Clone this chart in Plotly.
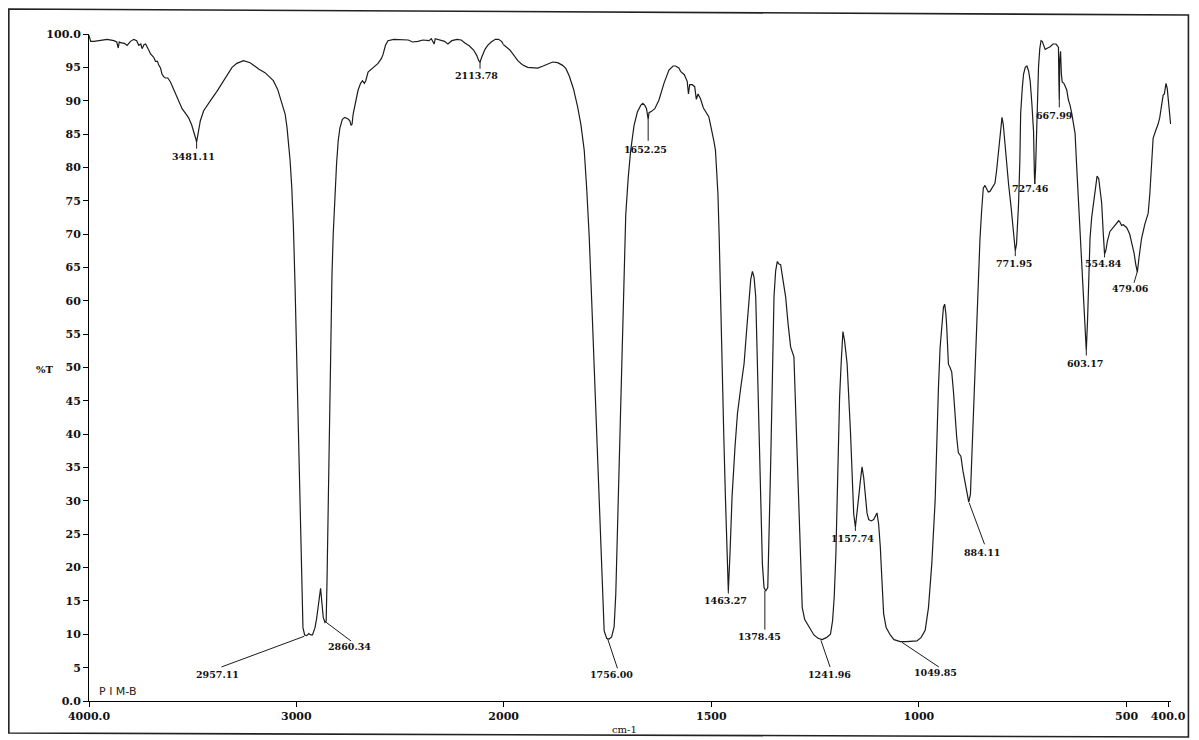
import plotly.graph_objects as go

# ---------------- data ----------------
wavenumber = [
    4000, 3992, 3976, 3950, 3912, 3880, 3866, 3859, 3854, 3848, 3830, 3816, 3800, 3784, 3770,
    3760, 3750, 3744, 3735, 3727, 3718, 3712, 3703, 3696, 3688, 3679, 3670, 3663, 3655, 3648,
    3640, 3631, 3620, 3607, 3590, 3575, 3551, 3530, 3519, 3505, 3495, 3485, 3481, 3476, 3463,
    3447, 3431, 3410, 3383, 3360, 3335, 3310, 3287, 3255, 3223, 3200, 3180, 3151, 3135, 3111,
    3090, 3071, 3054, 3045, 3038, 3030, 3022, 3014, 3006, 2998, 2990, 2982, 2974, 2968, 2960,
    2950, 2940, 2930, 2922, 2910, 2902, 2890, 2883, 2876, 2870, 2862, 2856, 2852, 2848, 2843,
    2838, 2833, 2828, 2822, 2814, 2806, 2798, 2790, 2778, 2766, 2752, 2742, 2736, 2731, 2726,
    2715, 2702, 2690, 2681, 2672, 2665, 2654, 2630, 2606, 2590, 2582, 2570, 2558, 2530, 2494,
    2460, 2440, 2413, 2390, 2360, 2349, 2335, 2330, 2317, 2300, 2285, 2269, 2250, 2225, 2205,
    2185, 2165, 2145, 2130, 2120, 2114, 2105, 2090, 2077, 2060, 2040, 2025, 2010, 2000, 1985,
    1966, 1955, 1942, 1930, 1918, 1905, 1890, 1882, 1870, 1858, 1850, 1842, 1832, 1822, 1814,
    1806, 1800, 1794, 1788, 1782, 1776, 1770, 1766, 1762, 1758, 1752, 1746, 1740, 1734, 1730,
    1728, 1722, 1718, 1714, 1710, 1706, 1700, 1694, 1686, 1678, 1670, 1665, 1660, 1656, 1652,
    1650, 1644, 1636, 1626, 1614, 1602, 1592, 1586, 1578, 1574, 1565, 1558, 1555, 1552, 1546,
    1540, 1536, 1532, 1526, 1519, 1514, 1506, 1502, 1498, 1494, 1490, 1484, 1481, 1478, 1474,
    1470, 1466, 1462, 1459, 1455, 1450, 1443, 1437, 1429, 1421, 1415, 1409, 1405, 1401, 1397,
    1393, 1389, 1385, 1381, 1377, 1373, 1369, 1364, 1360, 1357, 1353, 1349, 1345, 1341, 1337,
    1333, 1327, 1321, 1315, 1309, 1301, 1297, 1293, 1287, 1281, 1275, 1269, 1261, 1253, 1243,
    1233, 1223, 1213, 1208, 1204, 1200, 1197, 1191, 1187, 1183, 1179, 1173, 1165, 1160, 1157,
    1153, 1149, 1145, 1141, 1137, 1133, 1129, 1125, 1121, 1115, 1109, 1104, 1101, 1097, 1093,
    1089, 1085, 1079, 1069, 1060, 1045, 1030, 1018, 1005, 995, 985, 977, 969, 961, 957,
    953, 949, 945, 941, 938, 935, 933, 929, 925, 921, 917, 913, 909, 905, 899,
    894, 889, 884, 880, 876, 873, 869, 865, 861, 857, 853, 849, 845, 841, 837,
    833, 829, 823, 817, 813, 808, 804, 800, 797, 792, 788, 784, 778, 772, 768,
    765, 760, 757, 755, 751, 748, 744, 740, 736, 732, 728, 724, 722, 721, 719,
    717, 714, 712, 709, 706, 703, 699, 696, 690, 684, 677, 670, 666, 664, 663,
    662, 661, 659, 657, 655, 651, 647, 644, 640, 636, 632, 628, 624, 620, 616,
    612, 608, 604, 600, 597, 594, 591, 588, 584, 580, 575, 571, 567, 564, 560,
    556, 553, 550, 546, 540, 532, 524, 519, 516, 512, 508, 504, 500, 496, 492,
    487, 482, 478, 474, 470, 464, 456, 448, 444, 440, 436, 430, 424, 420, 416,
    412, 409, 407, 405, 402, 400, 397, 394,
]
transmittance = [
    99.8, 98.9, 98.9, 99.0, 99.2, 99.0, 98.8, 97.9, 98.8, 98.7, 98.6, 98.3, 98.9, 99.2, 99.0,
    98.3, 98.5, 97.8, 98.4, 98.5, 97.8, 97.6, 97.0, 96.8, 96.5, 95.9, 95.9, 95.3, 94.9, 94.0,
    93.6, 93.4, 93.4, 92.8, 91.6, 90.6, 88.8, 87.9, 87.4, 86.4, 85.5, 84.3, 83.8, 84.8, 87.0,
    88.5, 89.3, 90.2, 91.4, 92.5, 93.9, 95.0, 95.6, 96.0, 95.7, 95.1, 94.7, 94.2, 93.7, 93.0,
    91.7, 89.8, 88.0, 86.0, 84.0, 81.0, 77.0, 71.0, 62.0, 51.0, 40.0, 30.0, 18.0, 11.0, 9.9,
    9.8, 10.1, 9.9, 9.9, 11.0, 12.4, 15.0, 16.9, 14.5, 12.5, 11.8, 12.0, 18.0, 26.0, 37.0,
    48.0, 57.0, 64.0, 70.0, 76.0, 80.5, 84.0, 85.9, 87.2, 87.5, 87.3, 87.0, 86.3, 86.5, 88.0,
    89.5, 91.6, 92.6, 93.0, 92.6, 93.0, 94.3, 95.0, 95.6, 96.3, 96.9, 98.3, 99.0, 99.2, 99.2,
    99.1, 98.8, 98.9, 99.1, 99.0, 99.3, 98.5, 99.3, 99.2, 99.0, 98.9, 98.5, 99.0, 99.2, 99.1,
    98.6, 98.2, 97.6, 96.8, 96.0, 95.8, 96.6, 97.7, 98.3, 98.8, 99.2, 99.2, 98.9, 98.4, 97.6,
    96.0, 95.4, 95.0, 95.0, 94.9, 95.2, 95.6, 95.8, 95.7, 95.3, 94.8, 93.7, 91.8, 89.1, 86.4,
    82.6, 76.8, 69.6, 60.0, 50.1, 40.3, 30.6, 22.0, 14.5, 10.5, 9.4, 9.3, 9.6, 11.1, 16.0,
    20.8, 37.1, 47.0, 56.6, 65.0, 72.9, 78.5, 82.6, 86.3, 88.3, 89.3, 89.6, 89.3, 88.8, 87.2,
    88.2, 88.4, 88.8, 90.1, 92.6, 94.6, 95.2, 95.2, 94.9, 94.4, 93.9, 92.9, 91.0, 92.4, 92.4,
    92.1, 90.2, 91.0, 90.3, 88.9, 88.4, 87.6, 86.4, 85.4, 84.0, 82.6, 76.0, 69.6, 60.0, 50.1,
    40.0, 30.6, 21.0, 16.5, 22.0, 30.6, 38.0, 43.1, 47.0, 50.6, 55.5, 60.6, 63.2, 64.4, 63.5,
    60.6, 51.0, 40.6, 30.0, 20.6, 17.0, 16.5, 17.0, 26.0, 35.6, 48.0, 60.6, 64.5, 65.9, 65.5,
    65.4, 63.0, 60.6, 56.5, 53.1, 51.6, 44.0, 35.6, 24.0, 14.0, 12.2, 11.6, 10.6, 9.9, 9.4,
    9.2, 9.5, 10.0, 12.0, 15.6, 22.0, 30.6, 45.6, 51.0, 55.4, 54.0, 50.6, 40.6, 32.0, 28.0,
    26.1, 28.0, 30.6, 33.0, 35.1, 33.5, 30.6, 28.2, 27.2, 27.0, 27.2, 27.9, 28.2, 26.5, 23.1,
    18.0, 13.1, 11.0, 9.9, 9.2, 8.9, 8.9, 8.9, 9.0, 9.5, 10.6, 14.0, 20.6, 30.0, 40.0,
    47.0, 53.0, 56.5, 59.0, 59.5, 58.0, 56.0, 50.5, 50.0, 49.3, 46.5, 42.6, 39.5, 37.2, 36.7,
    34.5, 32.9, 31.0, 29.8, 31.0, 36.0, 42.6, 50.0, 58.6, 64.0, 69.3, 73.5, 76.9, 77.3, 76.8,
    76.3, 76.4, 77.0, 77.6, 79.5, 82.7, 86.0, 87.5, 86.5, 82.7, 80.0, 77.4, 74.0, 70.4, 67.5,
    68.5, 74.7, 81.0, 88.1, 92.0, 94.0, 95.0, 95.2, 94.5, 92.9, 89.5, 85.4, 79.0, 77.5, 80.0,
    85.2, 91.0, 95.1, 97.8, 99.0, 98.9, 98.0, 97.7, 97.9, 98.1, 98.5, 98.5, 98.2, 98.0, 93.0,
    90.1, 96.0, 97.4, 94.0, 92.8, 92.6, 92.0, 91.6, 90.1, 89.3, 88.1, 86.8, 85.1, 80.0, 75.1,
    70.0, 65.1, 59.5, 54.5, 52.5, 57.0, 64.0, 69.3, 72.5, 74.7, 77.0, 78.7, 78.3, 77.0, 74.7,
    70.0, 67.0, 67.5, 69.0, 70.4, 71.0, 71.5, 72.0, 71.8, 71.3, 71.4, 71.2, 71.0, 70.5, 69.9,
    68.5, 67.2, 65.5, 64.3, 66.5, 69.3, 71.5, 73.1, 76.0, 81.0, 84.4, 85.5, 86.5, 87.5, 89.0,
    90.8, 91.0, 92.0, 92.6, 91.8, 90.5, 89.0, 86.5,
]

# x-axis tick labels (two-scale IR abscissa)
ticks_high = [4000, 3000, 2000]
ticks_high_text = ["4000.0", "3000", "2000"]
ticks_low = [1500, 1000, 500, 400]
ticks_low_text = ["1500", "1000", "500", "400.0"]
ytick_vals = list(range(0, 101, 5))
ytick_text = ["0.0"] + [str(v) for v in range(5, 100, 5)] + ["100.0"]

# peak annotations: label text, label position (cm-1, %T), leader line
peak_labels = ["3481.11", "2113.78", "2957.11", "2860.34", "1756.00", "1652.25",
               "1463.27", "1378.45", "1241.96", "1157.74", "1049.85", "884.11",
               "771.95", "727.46", "667.99", "603.17", "554.84", "479.06"]
label_pos = [(3495, 81.6), (2130, 93.8), (3380, 4.0), (2745, 8.2), (1740, 3.9), (1659, 82.7),
             (1466, 15.1), (1385, 9.6), (1216, 3.9), (1159, 24.4), (959, 4.2), (849, 22.3),
             (772, 65.6), (731, 76.8), (673, 87.8), (600, 50.6), (555, 65.6), (491, 61.8)]
leaders = [((3481, 83.8), (3481, 82.8)), ((2114, 95.8), (2114, 94.8)),
           ((3361, 5.1), (2962, 9.7)), ((2865, 12.0), (2736, 9.0)),
           ((1750, 9.4), (1726, 4.9)), ((1652, 87.2), (1652, 84.0)),
           ((1459, 16.5), (1459, 16.1)), ((1371, 16.5), (1371, 10.7)),
           ((1236, 9.1), (1214, 5.1)), ((1153, 26.1), (1153, 25.5)),
           ((1041, 8.8), (952, 5.1)), ((879, 29.7), (842, 23.5)),
           ((768, 67.5), (768, 66.7)), ((721, 77.5), (721, 77.8)),
           ((662, 90.1), (662, 89.0)), ((597, 52.5), (597, 51.8)),
           ((553, 67.0), (553, 66.5)), ((474, 64.4), (482, 62.7))]

# ---------------- figure ----------------
LINE = "#1c1c1c"
SERIF = "DejaVu Serif"
W, H = 1191, 732            # page body adds an 8 px margin
ML, MR, MT, MB = 81, 24.5, 26, 39
plot_w = W - ML - MR
split = 416 / plot_w

fig = go.Figure()
for xa in ("x", "x2"):
    fig.add_trace(go.Scatter(x=wavenumber, y=transmittance, mode="lines", xaxis=xa, yaxis="y",
                             line=dict(color=LINE, width=1.2), hoverinfo="skip", showlegend=False))

axis_common = dict(showline=True, linecolor="black", linewidth=1, ticks="outside", ticklen=5,
                   tickcolor="black", showgrid=False, zeroline=False,
                   tickfont=dict(family=SERIF, size=11, color="#111", weight="bold"))

fig.update_layout(
    width=W, height=H,
    margin=dict(l=ML, r=MR, t=MT, b=MB),
    paper_bgcolor="white", plot_bgcolor="white",
    xaxis=dict(domain=[0, split], range=[4000, 2000], tickvals=ticks_high, ticktext=ticks_high_text,
               anchor="y", **axis_common),
    xaxis2=dict(domain=[split, 1], range=[2000, 393], tickvals=ticks_low, ticktext=ticks_low_text,
                anchor="y", **axis_common),
    yaxis=dict(domain=[0, 1], range=[0, 100], tickvals=ytick_vals, ticktext=ytick_text,
               anchor="x", **axis_common),
)

annotations = []
shapes = []
for text, (lx, ly), ((x0, y0), (x1, y1)) in zip(peak_labels, label_pos, leaders):
    xr = "x" if lx >= 2000 else "x2"
    annotations.append(dict(x=lx, y=ly, xref=xr, yref="y", text=text, showarrow=False,
                            xanchor="center", yanchor="middle",
                            font=dict(family=SERIF, size=9.5, color="#111", weight="bold")))
    lr = "x" if max(x0, x1) >= 2000 else "x2"
    shapes.append(dict(type="line", xref=lr, yref="y", x0=x0, y0=y0, x1=x1, y1=y1,
                       line=dict(color=LINE, width=1)))


def px_x(px):  # page pixel -> paper x
    return (px - 8 - ML) / plot_w


def px_y(py):  # page pixel -> paper y
    return (H - MB - (py - 8)) / (H - MT - MB)


annotations += [
    dict(x=px_x(45), y=px_y(369), xref="paper", yref="paper", text="%T", showarrow=False,
         xanchor="center", yanchor="middle",
         font=dict(family=SERIF, size=10, color="#111", weight="bold")),
    dict(x=px_x(626), y=px_y(729), xref="paper", yref="paper", text="cm-1", showarrow=False,
         xanchor="center", yanchor="middle",
         font=dict(family=SERIF, size=10, color="#111")),
    dict(x=px_x(97), y=px_y(691), xref="paper", yref="paper", text="P I M-B", showarrow=False,
         xanchor="left", yanchor="middle",
         font=dict(family="DejaVu Sans", size=11, color="#222")),
]

# outer frame of the scanned page (slightly rotated in the scan)
frame = [(8.6, 9), (1192, 15), (1192, 737), (8.6, 733)]
path = "M " + " L ".join(f"{px_x(a):.4f},{px_y(b):.4f}" for a, b in frame) + " Z"
shapes.append(dict(type="path", xref="paper", yref="paper", path=path,
                   line=dict(color="#222", width=1.6)))

fig.update_layout(annotations=annotations, shapes=shapes)
fig.write_html("out.html")
